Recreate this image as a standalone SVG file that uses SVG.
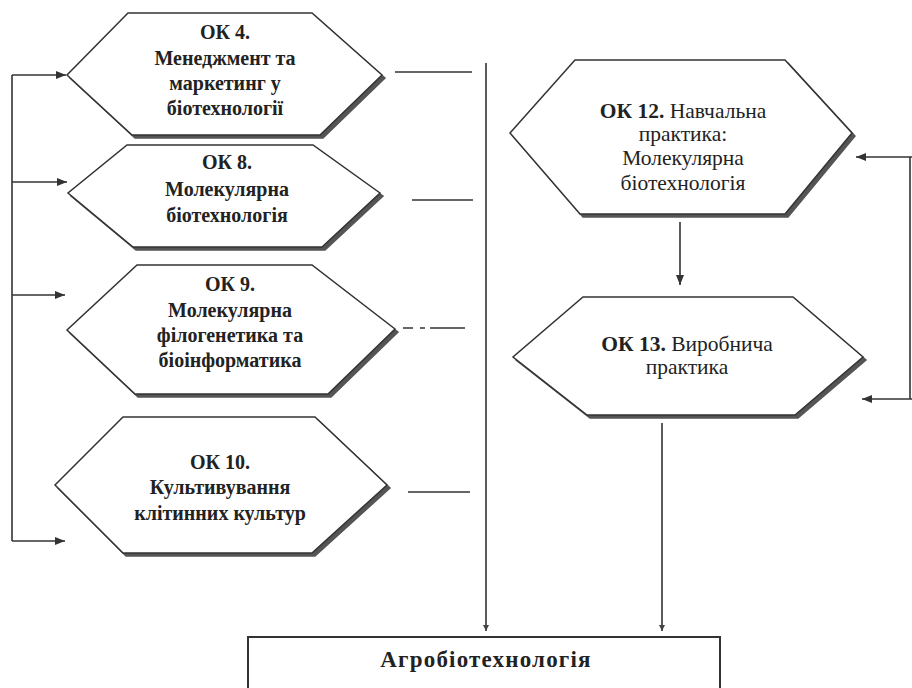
<svg xmlns="http://www.w3.org/2000/svg" width="912" height="688" viewBox="0 0 912 688">
<defs>
<marker id="ah" viewBox="0 0 10 8" refX="10" refY="4" markerWidth="10" markerHeight="8" markerUnits="userSpaceOnUse" orient="auto">
<path d="M0,0 L10,4 L0,8 z" fill="#333"/>
</marker>
<marker id="ahs" viewBox="0 0 6 6" refX="6" refY="3" markerWidth="6" markerHeight="6" markerUnits="userSpaceOnUse" orient="auto">
<path d="M0,0 L6,3 L0,6 z" fill="#444"/>
</marker>
</defs>
<style>
.hex{fill:#fff;stroke:#333;stroke-width:1.5}
.sh{fill:#555;stroke:#555;stroke-width:1.5}
.ln{fill:none;stroke:#333;stroke-width:1.6}
text{font-family:'Liberation Serif','Times New Roman','DejaVu Serif',serif;font-size:20px;fill:#222;text-anchor:middle}
.b{font-weight:bold}
.r{font-size:21.5px}
.big{font-size:23px;letter-spacing:1.2px}
</style>
<rect width="912" height="688" fill="#fff"/>
<g id="connectors">
<path class="ln" d="M12,75 V541"/>
<path class="ln" d="M12,75 H66" marker-end="url(#ah)"/>
<path class="ln" d="M12,182 H67" marker-end="url(#ah)"/>
<path class="ln" d="M12,295 H65" marker-end="url(#ah)"/>
<path class="ln" d="M12,541 H65" marker-end="url(#ah)"/>
<path class="ln" d="M395,72 H472"/>
<path class="ln" d="M412,200 H473"/>
<path class="ln" d="M403,328 H413 M420,328 H425 M430,328 H465"/>
<path class="ln" d="M408,492 H470"/>
<path class="ln" d="M486,63 V631" marker-end="url(#ahs)"/>
<path class="ln" d="M662,423 V631" marker-end="url(#ahs)"/>
<path class="ln" d="M680,222 V285" marker-end="url(#ah)"/>
<path class="ln" d="M910,157 V399"/>
<path class="ln" d="M912,157 H856" marker-end="url(#ah)"/>
<path class="ln" d="M912,399 H862" marker-end="url(#ah)"/>
</g>
<g id="ok4">
<polygon class="sh" points="131,16 315,16 385,78 323,138 135,138 70,78"/>
<polygon class="hex" points="128,13 312,13 382,75 320,135 132,135 67,75"/>
<text class="b" x="225" y="39">ОК 4.</text>
<text class="b" x="225" y="65">Менеджмент та</text>
<text class="b" x="225" y="90">маркетинг у</text>
<text class="b" x="225" y="115">біотехнології</text>
</g>
<g id="ok8">
<polygon class="sh" points="130,148 316,148 383,196 325,250 136,250 71,196"/>
<polygon class="hex" points="127,145 313,145 380,193 322,247 133,247 68,193"/>
<text class="b" x="227" y="169">ОК 8.</text>
<text class="b" x="227" y="196">Молекулярна</text>
<text class="b" x="227" y="222">біотехнологія</text>
</g>
<g id="ok9">
<polygon class="sh" points="140,268 315,268 398,332 331,397 138,397 70,333"/>
<polygon class="hex" points="137,265 312,265 395,329 328,394 135,394 67,330"/>
<text class="b" x="230" y="291">ОК 9.</text>
<text class="b" x="230" y="317">Молекулярна</text>
<text class="b" x="230" y="342">філогенетика та</text>
<text class="b" x="230" y="367">біоінформатика</text>
</g>
<g id="ok10">
<polygon class="sh" points="126,420 318,420 390,488 315,556 126,556 58,488"/>
<polygon class="hex" points="123,417 315,417 387,485 312,553 123,553 55,485"/>
<text class="b" x="220" y="469">ОК 10.</text>
<text class="b" x="220" y="494">Культивування</text>
<text class="b" x="220" y="520">клітинних культур</text>
</g>
<g id="ok12">
<polygon class="sh" points="578,63 788,63 855,136 788,217 583,217 513,136"/>
<polygon class="hex" points="575,60 785,60 852,133 785,214 580,214 510,133"/>
<text class="r" x="683" y="118"><tspan class="b">ОК 12.</tspan> Навчальна</text>
<text class="r" x="683" y="141">практика:</text>
<text class="r" x="683" y="165">Молекулярна</text>
<text class="r" x="683" y="190">біотехнологія</text>
</g>
<g id="ok13">
<polygon class="sh" points="586,300 796,300 866,360 798,418 590,418 516,360"/>
<polygon class="hex" points="583,297 793,297 863,357 795,415 587,415 513,357"/>
<text class="r" x="687" y="351"><tspan class="b">ОК 13.</tspan> Виробнича</text>
<text class="r" x="687" y="374">практика</text>
</g>
<g id="agro">
<rect x="248" y="637" width="472" height="60" fill="#fff" stroke="#333" stroke-width="2"/>
<text class="b big" x="486" y="667">Агробіотехнологія</text>
</g>
</svg>
